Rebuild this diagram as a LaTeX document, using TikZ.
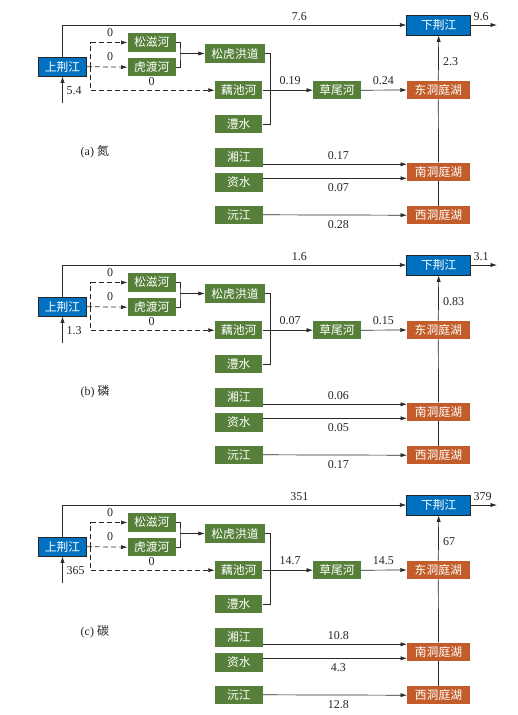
\documentclass[tikz,border=0pt]{standalone}
\usepackage{fontspec}
\setmainfont{Liberation Serif}
\newfontfamily\cjk{Noto Sans CJK SC}
\usetikzlibrary{arrows.meta,calc}
\definecolor{cblue}{RGB}{0,112,192}
\definecolor{cgreen}{RGB}{86,128,58}
\definecolor{corange}{RGB}{194,92,42}
\definecolor{cline}{RGB}{40,40,40}
\begin{document}
\begin{tikzpicture}[x=1pt,y=-1pt,
  box/.style={inner sep=0pt, minimum height=18.4pt, text=white, font=\cjk\fontsize{11.8}{12}\selectfont},
  bluebox/.style={box, fill=cblue, draw=black!85, line width=0.6pt},
  greenbox/.style={box, fill=cgreen},
  orangebox/.style={box, fill=corange},
  conn/.style={draw=cline, line width=0.7pt},
  arr/.style={conn, -{Latex[length=6.5pt,width=4.2pt]}},
  dsh/.style={arr, dash pattern=on 5pt off 3pt},
  lab/.style={font=\fontsize{12}{13}\selectfont, text=black!85, inner sep=0pt},
  captext/.style={font=\fontsize{12}{13}\selectfont, text=black!85, inner sep=0pt, anchor=west}
]
\useasboundingbox (0,0) rectangle (517,715);
\fill[white] (0,0) rectangle (517,715);
\foreach \o/\p/\vin/\vtop/\vout/\vsc/\vce/\vde/\vxj/\vzs/\vyj/\cp in
 {0/a/5.4/7.6/9.6/0.19/0.24/2.3/0.17/0.07/0.28/{(a) {\cjk 氮}},
  240/b/1.3/1.6/3.1/0.07/0.15/0.83/0.06/0.05/0.17/{(b) {\cjk 磷}},
  480/c/365/351/379/14.7/14.5/67/10.8/4.3/12.8/{(c) {\cjk 碳}}}{
\begin{scope}[shift={(0,\o)}]
  % nodes
  \node[bluebox, minimum width=48.5pt, minimum height=18.7pt] (\p-up) at (62.5,66.7) {上荆江};
  \node[bluebox, minimum width=64pt, minimum height=20pt] (\p-dn) at (438.7,25) {下荆江};
  \node[greenbox, minimum width=48pt] (\p-sz) at (151.7,42.5) {松滋河};
  \node[greenbox, minimum width=48pt] (\p-hd) at (151.7,67.2) {虎渡河};
  \node[greenbox, minimum width=60pt] (\p-sh) at (235,53.5) {松虎洪道};
  \node[greenbox, minimum width=47.4pt] (\p-oc) at (238.7,90.2) {藕池河};
  \node[greenbox, minimum width=47.4pt] (\p-ls) at (238.7,124.2) {澧水};
  \node[greenbox, minimum width=47.4pt] (\p-cw) at (337,90.2) {草尾河};
  \node[orangebox, minimum width=62.5pt] (\p-ed) at (438.3,90) {东洞庭湖};
  \node[greenbox, minimum width=47.7pt] (\p-xj) at (238.8,157.5) {湘江};
  \node[greenbox, minimum width=47.7pt] (\p-zs) at (238.8,182.5) {资水};
  \node[greenbox, minimum width=47.7pt] (\p-yj) at (238.8,214.8) {沅江};
  \node[orangebox, minimum width=62.5pt] (\p-nd) at (438.5,171.7) {南洞庭湖};
  \node[orangebox, minimum width=62.5pt] (\p-wd) at (438.5,215.2) {西洞庭湖};
  % helper coordinates
  \coordinate (\p-in) at (62.5,103);
  \coordinate (\p-out) at (497,25);
  \coordinate (\p-t) at (90.7,66.7);
  \coordinate (\p-j) at (180,53.5);
  \coordinate (\p-k) at (270,53.5);
  % connectors
  \draw[arr] (\p-up.north) |- (\p-dn.west);
  \draw[arr] (\p-in) -- (\p-up.south);
  \draw[arr] (\p-dn.east) -- (\p-out);
  \draw[dsh] (\p-up.east) -- (\p-hd.west);
  \draw[dsh] (\p-t) |- (\p-sz.west);
  \draw[dsh] (\p-t) |- (\p-oc.west);
  \draw[conn] (\p-sz.east) -| (\p-j) |- (\p-hd.east);
  \draw[arr] (\p-j) -- (\p-sh.west);
  \draw[conn] (\p-sh.east) -| (\p-k) |- (\p-ls.east);
  \draw[arr] (\p-oc.east) -- (\p-cw.west);
  \draw[arr] (\p-cw.east) -- (\p-ed.west);
  \draw[conn] (\p-wd.north) -- (\p-nd.south);
  \draw[conn] (\p-nd.north) -- (\p-ed.south);
  \draw[arr] (\p-ed.north) -- (\p-dn.south);
  \draw[arr] ([yshift=-6.8pt]\p-xj.east) -- ([yshift=-6.8pt]\p-xj.east -| \p-nd.west);
  \draw[arr] ([yshift=4.2pt]\p-zs.east) -- ([yshift=4.2pt]\p-zs.east -| \p-nd.west);
  \draw[arr] (\p-yj.east) -- (\p-wd.west);
  % labels
  \node[lab] (\p-l1) at (299.3,16.7) {\vtop};
  \node[lab, anchor=west] (\p-l2) at (473.3,17) {\vout};
  \node[lab, anchor=west] (\p-l3) at (66.5,91) {\vin};
  \node[lab] (\p-l4) at (110,33) {0};
  \node[lab] (\p-l5) at (110,57) {0};
  \node[lab] (\p-l6) at (151.7,82) {0};
  \node[lab] (\p-l7) at (290,81) {\vsc};
  \node[lab] (\p-l8) at (383.3,81) {\vce};
  \node[lab, anchor=west] (\p-l9) at (443,61.7) {\vde};
  \node[lab] (\p-l10) at (338.3,156) {\vxj};
  \node[lab] (\p-l11) at (338.3,187.7) {\vzs};
  \node[lab] (\p-l12) at (338.3,224.3) {\vyj};
  \node[captext] (\p-cap) at (80.5,151.7) {\cp};
\end{scope}
}
\end{tikzpicture}
\end{document}
